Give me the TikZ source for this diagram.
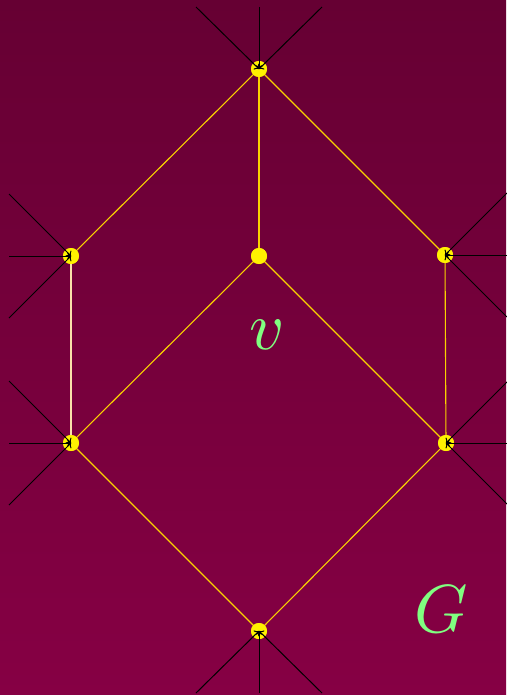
\documentclass[tikz,border=0pt]{standalone}
\usetikzlibrary{arrows.meta}
\definecolor{bgtop}{RGB}{102,0,51}
\definecolor{bgbot}{RGB}{134,0,68}
\definecolor{edgecol}{RGB}{250,210,0}
\definecolor{paleedge}{RGB}{250,225,170}
\definecolor{labelgreen}{RGB}{128,255,128}
\tikzset{
  vert/.style={circle,fill=yellow,inner sep=0pt,minimum size=16pt},
  gedge/.style={draw=edgecol,line width=1.1pt},
  hair/.style={draw=black,line width=1pt,-{To[length=4pt,width=8pt]}},
  lbl/.style={text=labelgreen,scale=6.8,inner sep=0pt}
}
\begin{document}
\begin{tikzpicture}[x=1pt,y=-1pt]
\shade[top color=bgtop,bottom color=bgbot] (0,0) rectangle (506,695);
\useasboundingbox (0,0) rectangle (506,695);
\node[vert] (t) at (259,69) {};
\node[vert] (lu) at (71,256) {};
\node[vert] (c) at (259,256) {};
\node[vert] (ru) at (445,255) {};
\node[vert] (ll) at (71,443) {};
\node[vert] (rl) at (446,443) {};
\node[vert] (b) at (259,631) {};
\draw[gedge] (t.center) -- (lu.center);
\draw[gedge] (t.center) -- (c.center);
\draw[gedge] (t.center) -- (ru.center);
\draw[draw=paleedge,line width=1.1pt] (lu.center) -- (ll.center);
\draw[gedge] (c.center) -- (ll.center);
\draw[gedge] (c.center) -- (rl.center);
\draw[gedge] (ru.center) -- (rl.center);
\draw[gedge] (ll.center) -- (b.center);
\draw[gedge] (rl.center) -- (b.center);
\foreach \n in {t,lu,c,ru,ll,rl,b} \node[vert] at (\n) {};
% hairs
\coordinate (t1) at (196,7); \coordinate (t2) at (259,7); \coordinate (t3) at (322,7);
\coordinate (a1) at (9,194); \coordinate (a2) at (9,256); \coordinate (a3) at (9,318);
\coordinate (r1) at (507,193); \coordinate (r2) at (507,255); \coordinate (r3) at (507,317);
\coordinate (l1) at (9,381); \coordinate (l2) at (9,443); \coordinate (l3) at (9,505);
\coordinate (s1) at (508,381); \coordinate (s2) at (508,443); \coordinate (s3) at (508,505);
\coordinate (b1) at (196,693); \coordinate (b2) at (259,693); \coordinate (b3) at (322,693);
\foreach \c in {t1,t2,t3} \draw[hair] (\c) -- (t.center);
\foreach \c in {a1,a2,a3} \draw[hair] (\c) -- (lu.center);
\foreach \c in {r1,r2,r3} \draw[hair] (\c) -- (ru.center);
\foreach \c in {l1,l2,l3} \draw[hair] (\c) -- (ll.center);
\foreach \c in {s1,s2,s3} \draw[hair] (\c) -- (rl.center);
\foreach \c in {b1,b2,b3} \draw[hair] (\c) -- (b.center);
\node[lbl] (v) at (267,335) {$v$};
\node[lbl] (G) at (441,609) {$G$};
\end{tikzpicture}
\end{document}
